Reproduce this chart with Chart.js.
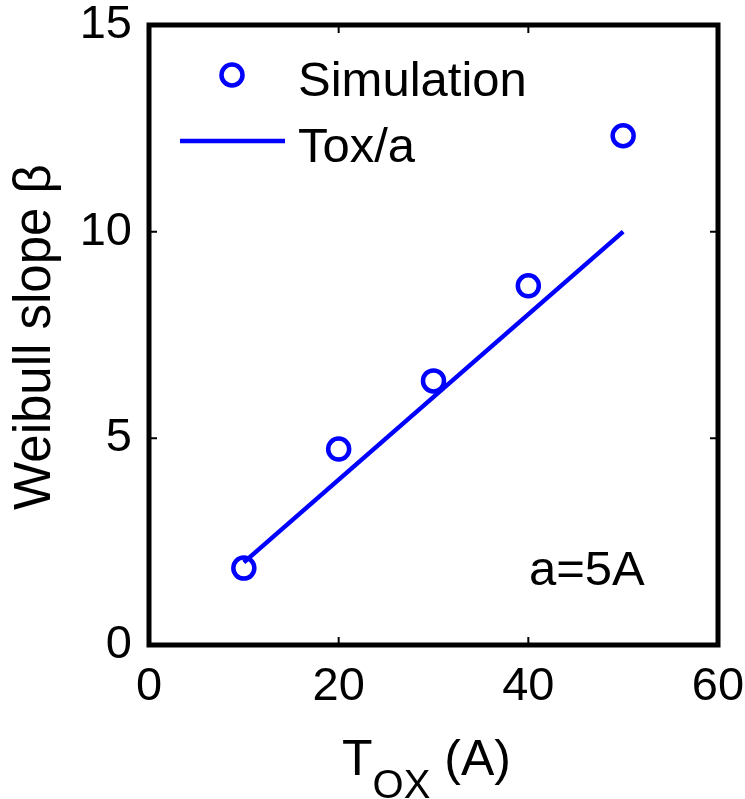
<!DOCTYPE html>
<html>
<head>
<meta charset="utf-8">
<script src="https://cdn.jsdelivr.net/npm/chart.js@4.4.0/dist/chart.umd.min.js"></script>
<style>
  html, body { margin: 0; padding: 0; background: #fff; }
  #wrap { width: 745px; height: 799px; }
</style>
</head>
<body>
<div id="wrap"><canvas id="chart1" width="745" height="799"></canvas></div>
<script>
// Data
const toxValues = [10, 20, 30, 40, 50];
const simValues = [1.86, 4.74, 6.39, 8.69, 12.32];
const fitX = [10, 50];
const fitY = [2, 10];          // Tox/a with a = 5
const xTicks = [0, 20, 40, 60];
const yTicks = [0, 5, 10, 15];

const FONT = '"Liberation Sans", Arial, Helvetica, sans-serif';
const BLUE = '#0000ff';

// Box, inner ticks, axis titles, legend and annotation
const decorPlugin = {
    id: 'decor',
    afterDraw(chart) {
        const ctx = chart.ctx;
        const a = chart.chartArea;
        const xs = chart.scales.x, ys = chart.scales.y;
        ctx.save();

        // inward ticks on all four sides
        ctx.strokeStyle = '#000';
        ctx.lineWidth = 2;
        const tl = 8;
        xTicks.forEach(v => {
            const px = xs.getPixelForValue(v);
            ctx.beginPath();
            ctx.moveTo(px, a.bottom); ctx.lineTo(px, a.bottom - tl);
            ctx.moveTo(px, a.top); ctx.lineTo(px, a.top + tl);
            ctx.stroke();
        });
        yTicks.forEach(v => {
            const py = ys.getPixelForValue(v);
            ctx.beginPath();
            ctx.moveTo(a.left, py); ctx.lineTo(a.left + tl, py);
            ctx.moveTo(a.right, py); ctx.lineTo(a.right - tl, py);
            ctx.stroke();
        });

        // box
        ctx.lineWidth = 5;
        ctx.lineJoin = 'miter';
        ctx.strokeRect(a.left, a.top, a.right - a.left, a.bottom - a.top);

        ctx.fillStyle = '#000';
        ctx.textBaseline = 'alphabetic';

        // y axis title
        ctx.save();
        ctx.translate(50, 337);
        ctx.rotate(-Math.PI / 2);
        ctx.font = '51px ' + FONT;
        ctx.textAlign = 'center';
        ctx.fillText('Weibull slope \u03b2', 0, 0);
        ctx.restore();

        // x axis title with subscript
        ctx.textAlign = 'left';
        ctx.font = '50px ' + FONT;
        let x0 = 342;
        ctx.fillText('T', x0, 775);
        x0 += ctx.measureText('T').width;
        ctx.font = '40px ' + FONT;
        ctx.fillText('OX', x0, 798);
        x0 += ctx.measureText('OX').width;
        ctx.font = '50px ' + FONT;
        ctx.fillText(' (A)', x0, 775);

        // legend
        ctx.strokeStyle = BLUE;
        ctx.lineWidth = 4.5;
        ctx.beginPath();
        ctx.arc(232, 75, 10.5, 0, Math.PI * 2);
        ctx.stroke();
        ctx.beginPath();
        ctx.moveTo(180, 141); ctx.lineTo(285, 141);
        ctx.stroke();

        ctx.fillStyle = '#000';
        ctx.font = '49px ' + FONT;
        ctx.fillText('Simulation', 298, 96);
        ctx.fillText('Tox/a', 298, 162);

        // annotation
        ctx.fillText('a=5A', 529, 585);

        ctx.restore();
    }
};

function zeroPad(s) {
    s.paddingLeft = 0; s.paddingRight = 0;
    s.paddingTop = 0; s.paddingBottom = 0;
}

const ctx = document.getElementById('chart1').getContext('2d');
const chart = new Chart(ctx, {
    type: 'scatter',
    data: {
        datasets: [
            {
                label: 'Simulation',
                data: toxValues.map((x, i) => ({ x: x, y: simValues[i] })),
                showLine: false,
                pointRadius: 10.5,
                pointHoverRadius: 10.5,
                pointBorderWidth: 4.5,
                pointBorderColor: BLUE,
                pointBackgroundColor: 'rgba(0,0,0,0)'
            },
            {
                label: 'Tox/a',
                data: fitX.map((x, i) => ({ x: x, y: fitY[i] })),
                showLine: true,
                borderColor: BLUE,
                borderWidth: 4.5,
                pointRadius: 0,
                fill: false
            }
        ]
    },
    options: {
        responsive: false,
        animation: false,
        events: [],
        layout: { padding: { left: 0, right: 27, top: 25, bottom: 0 } },
        plugins: {
            legend: { display: false },
            tooltip: { enabled: false }
        },
        scales: {
            x: {
                type: 'linear',
                min: 0, max: 60,
                afterFit: s => { s.height = 154; zeroPad(s); },
                afterBuildTicks: s => { s.ticks = xTicks.map(v => ({ value: v })); },
                grid: { display: false },
                border: { display: false },
                ticks: {
                    color: '#000',
                    padding: 6,
                    font: { family: FONT, size: 47 }
                }
            },
            y: {
                type: 'linear',
                min: 0, max: 15,
                afterFit: s => { s.width = 149; zeroPad(s); },
                afterBuildTicks: s => { s.ticks = yTicks.map(v => ({ value: v })); },
                grid: { display: false },
                border: { display: false },
                ticks: {
                    color: '#000',
                    padding: 9,
                    font: { family: FONT, size: 47 }
                }
            }
        }
    },
    plugins: [decorPlugin]
});
</script>
</body>
</html>
